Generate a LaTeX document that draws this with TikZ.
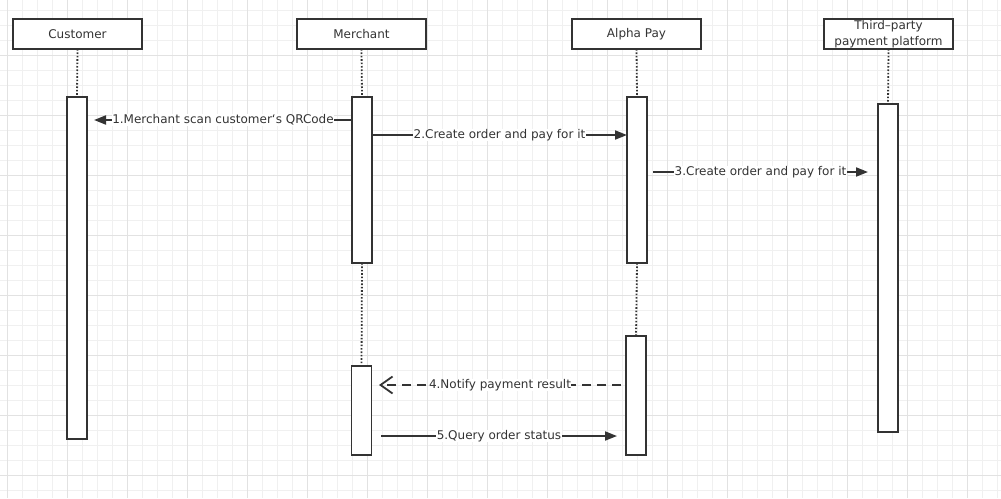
\documentclass[tikz,border=0pt]{standalone}
\usepackage{fontspec}
\setmainfont{DejaVu Sans}
\usetikzlibrary{arrows.meta}
\definecolor{ink}{HTML}{333333}
\definecolor{gminor}{HTML}{F0F0F0}
\definecolor{gmajor}{HTML}{E2E2E2}
\tikzset{
  x=1pt,y=-1pt,
  gridminor/.style={gminor,line width=1pt},
  gridmajor/.style={gmajor,line width=1pt},
  hdr/.style={draw=ink,fill=white,line width=1.8pt,minimum width=129pt,minimum height=30pt,inner sep=0pt,outer sep=0pt,text=ink,font=\fontsize{12}{15.5}\selectfont,align=center},
  act/.style={draw=ink,fill=white,line width=1.8pt,minimum width=20pt,inner sep=0pt,outer sep=0pt},
  life/.style={ink,line width=1.8pt,dash pattern=on 1.6pt off 1.8pt},
  msg/.style={ink,line width=1.8pt,-{Triangle[length=12pt,width=9pt]}},
  ret/.style={ink,line width=1.8pt,dash pattern=on 9pt off 6pt,-{Straight Barb[length=12pt,width=17pt,line width=1.8pt]}},
  lbl/.style={fill=white,inner sep=0.5pt,text=ink,font=\fontsize{12}{14}\selectfont}
}
\begin{document}
\begin{tikzpicture}
\useasboundingbox (0,0) rectangle (1001,498);
\fill[white] (0,0) rectangle (1001,498);
% grid
\foreach \x in {7,22,...,1000} \draw[gridminor] (\x,0) -- (\x,498);
\foreach \y in {10,25,...,497} \draw[gridminor] (0,\y) -- (1001,\y);
\foreach \x in {7,67,...,1000} \draw[gridmajor] (\x,0) -- (\x,498);
\foreach \y in {55,115,...,497} \draw[gridmajor] (0,\y) -- (1001,\y);

% headers
\node[hdr] (cust) at (77.5,34) {Customer};
\node[hdr] (merch) at (361.5,34) {Merchant};
\node[hdr] (alpha) at (636.5,34) {Alpha Pay};
\node[hdr] (third) at (888.5,34) {Third–party\\payment platform};

% activations
\node[act,minimum height=342pt] (custA) at (77,268) {};
\node[act,minimum height=166pt] (merA1) at (362,180) {};
\node[act,minimum height=89pt] (merA2) at (361.5,410.5) {};
\node[act,minimum height=166pt] (alpA1) at (637,180) {};
\node[act,minimum height=119pt] (alpA2) at (636,395.5) {};
\node[act,minimum height=328pt] (thiA) at (888,268) {};

% lifelines
\draw[life] (cust.south) -- (custA.north);
\draw[life] (merch.south) -- (merA1.north);
\draw[life] (merA1.south) -- (merA2.north);
\draw[life] (alpha.south) -- (alpA1.north);
\draw[life] (alpA1.south) -- (alpA2.north);
\draw[life] (third.south) -- (thiA.north);

% message end points
\coordinate (m1s) at (merA1.west |- 0,120);
\coordinate (m1e) at (94,120);
\coordinate (m2s) at (merA1.east |- 0,135);
\coordinate (m2e) at (alpA1.west |- 0,135);
\coordinate (m3s) at (653,172);
\coordinate (m3e) at (868,172);
\coordinate (m4s) at (621,385);
\coordinate (m4e) at (379,385);
\coordinate (m5s) at (381,436);
\coordinate (m5e) at (617,436);

% messages
\draw[msg] (m1s) -- node[lbl] (l1) {1.Merchant scan customer‘s QRCode} (m1e);
\draw[msg] (m2s) -- node[lbl] (l2) {2.Create order and pay for it} (m2e);
\draw[msg] (m3s) -- node[lbl] (l3) {3.Create order and pay for it} (m3e);
\draw[ret] (m4s) -- node[lbl] (l4) {4.Notify payment result} (m4e);
\draw[msg] (m5s) -- node[lbl] (l5) {5.Query order status} (m5e);
\end{tikzpicture}
\end{document}
